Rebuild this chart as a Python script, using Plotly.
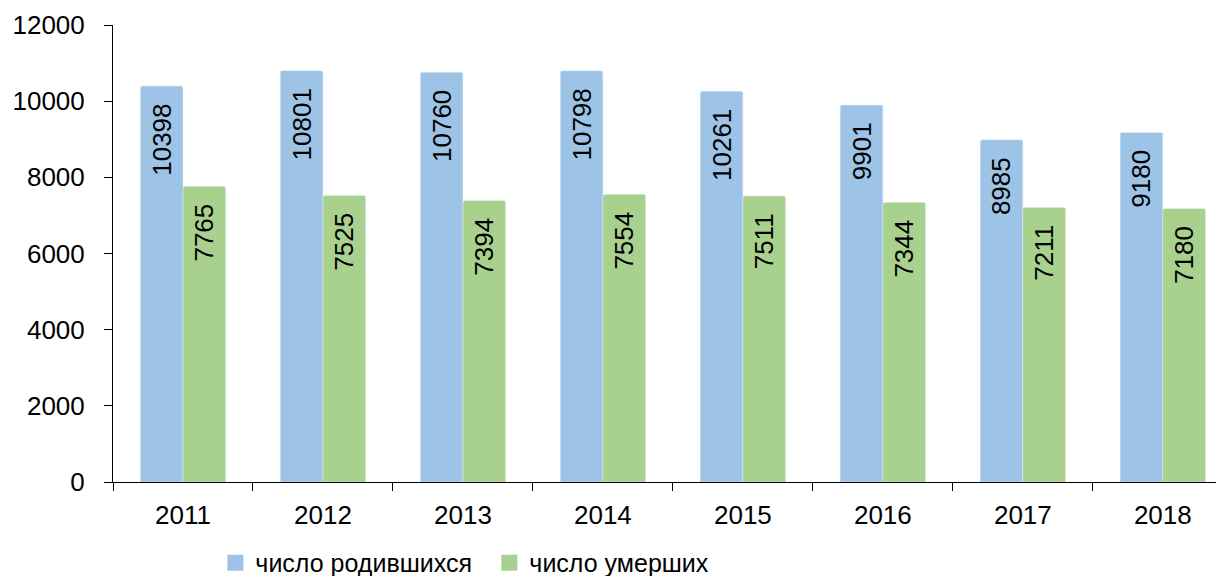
import plotly.graph_objects as go

years = ["2011", "2012", "2013", "2014", "2015", "2016", "2017", "2018"]
births = [10398, 10801, 10760, 10798, 10261, 9901, 8985, 9180]
deaths = [7765, 7525, 7394, 7554, 7511, 7344, 7211, 7180]
y_ticks = [0, 2000, 4000, 6000, 8000, 10000, 12000]

FONT = "Arial, Liberation Sans, sans-serif"
BLUE = "#9DC3E6"
GREEN = "#A9D18E"
PAD = "\u00a0\u00a0"

fig = go.Figure()
fig.add_trace(go.Bar(
    x=years, y=births, name="число родившихся", showlegend=False,
    marker=dict(color=BLUE, cornerradius=2),
    text=[str(v) + PAD for v in births], textposition="inside",
    insidetextanchor="end", textangle=-90,
    textfont=dict(family=FONT, size=26, color="black"),
    constraintext="none", hoverinfo="x+y",
))
fig.add_trace(go.Bar(
    x=years, y=deaths, name="число умерших", showlegend=False,
    marker=dict(color=GREEN, cornerradius=2),
    text=[str(v) + PAD for v in deaths], textposition="inside",
    insidetextanchor="end", textangle=-90,
    textfont=dict(family=FONT, size=26, color="black"),
    constraintext="none", hoverinfo="x+y",
))
# legend entries (square swatches)
for name, col in [("число родившихся", BLUE), ("число умерших", GREEN)]:
    fig.add_trace(go.Scatter(
        x=[None], y=[None], mode="markers", name=name,
        marker=dict(symbol="square", size=17, color=col),
    ))

fig.update_layout(
    width=1208, height=584,
    margin=dict(l=105, r=0, t=17, b=110, autoexpand=False),
    plot_bgcolor="white", paper_bgcolor="white",
    barmode="group", bargap=0.39, bargroupgap=0,
    font=dict(family=FONT, size=26, color="black"),
    showlegend=True,
    legend=dict(orientation="h", x=0.0928, y=-0.177, xanchor="left", yanchor="middle",
                font=dict(family=FONT, size=25, color="black"),
                entrywidth=229, entrywidthmode="pixels", traceorder="normal",
                bgcolor="rgba(0,0,0,0)"),
    uniformtext=dict(mode=False),
)
fig.update_xaxes(
    type="category", categoryorder="array", categoryarray=years,
    range=[-0.5, 7.38], automargin=False,
    showline=True, linecolor="black", linewidth=1,
    ticks="outside", tickson="boundaries", ticklen=8, tickcolor="black",
    ticklabelstandoff=10,
    showgrid=False, tickfont=dict(size=26),
)
fig.update_yaxes(
    range=[0, 12000], tickvals=y_ticks, tickformat="d", automargin=False,
    showline=True, linecolor="black", linewidth=1,
    ticks="outside", ticklen=8, tickcolor="black",
    ticklabelstandoff=14,
    showgrid=False, zeroline=False, tickfont=dict(size=26),
)

fig.write_html("out.html")
